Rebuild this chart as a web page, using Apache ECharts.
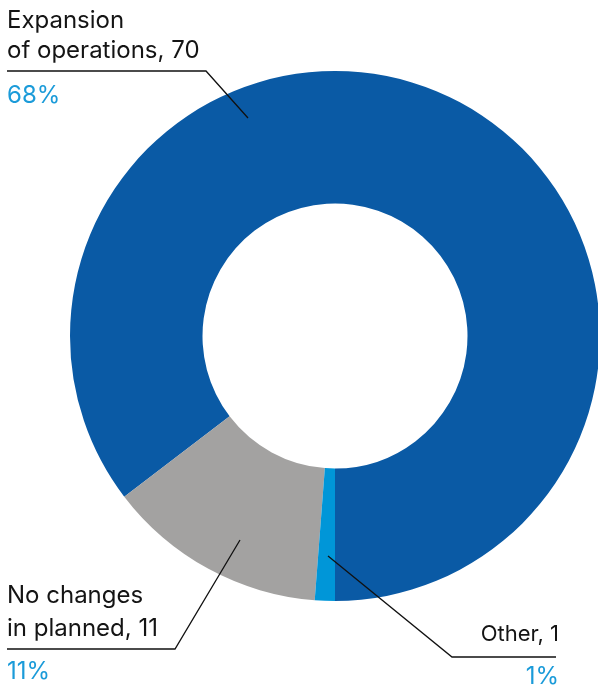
<!DOCTYPE html>
<html>
<head>
<meta charset="utf-8">
<style>
  html, body { margin: 0; padding: 0; background: #ffffff; }
  #chart { width: 598px; height: 688px; }
</style>
<script src="https://cdn.jsdelivr.net/npm/echarts@6/dist/echarts.min.js"></script>
</head>
<body>
<div id="chart"></div>
<script>
// Responses by category
const categories = ['Expansion of operations', 'No changes in planned', 'Other'];
const counts = [70, 11, 1];
const shares = ['68%', '11%', '1%'];
const sliceColors = ['#0a5aa5', '#a3a2a1', '#0096d8'];

const FONT = 'Inter, "Noto Sans", sans-serif';
const TEXT_DARK = '#141414';
const TEXT_BLUE = '#1b9bd9';

const chart = echarts.init(document.getElementById('chart'), null, { renderer: 'canvas' });

function label(text, x, y, opts) {
  return {
    type: 'text',
    silent: true,
    style: Object.assign({
      text: text,
      x: x,
      y: y,
      font: '24px ' + FONT,
      fill: TEXT_DARK,
      align: 'left',
      verticalAlign: 'middle'
    }, opts || {})
  };
}

function leader(points) {
  return {
    type: 'polyline',
    silent: true,
    z: 10,
    shape: { points: points },
    style: { stroke: '#111111', lineWidth: 1.3, fill: null }
  };
}

chart.setOption({
  animation: false,
  backgroundColor: '#ffffff',
  series: [{
    type: 'pie',
    center: [335, 336],
    radius: [132.5, 265],
    startAngle: 270,
    clockwise: false,
    label: { show: false },
    labelLine: { show: false },
    emphasis: { disabled: true },
    itemStyle: { borderWidth: 0 },
    data: categories.map((name, i) => ({
      name: name,
      value: counts[i],
      itemStyle: { color: sliceColors[i] }
    }))
  }],
  graphic: [
    // Expansion of operations
    label('Expansion', 7, 20.5),
    label('of operations, ' + counts[0], 7, 50.5),
    label(shares[0], 7, 96, { fill: TEXT_BLUE }),
    leader([[7, 71], [206, 71], [248, 118]]),
    // No changes in planned
    label('No changes', 7, 596),
    label('in planned, ' + counts[1], 7, 628.5),
    label(shares[1], 7, 672, { fill: TEXT_BLUE }),
    leader([[7, 649], [175, 649], [240, 540]]),
    // Other
    label('Other, ' + counts[2], 559, 634, { align: 'right', font: '22px ' + FONT }),
    label(shares[2], 559, 677, { align: 'right', fill: TEXT_BLUE }),
    leader([[556, 657], [452, 657], [328, 556]])
  ]
});
</script>
</body>
</html>
